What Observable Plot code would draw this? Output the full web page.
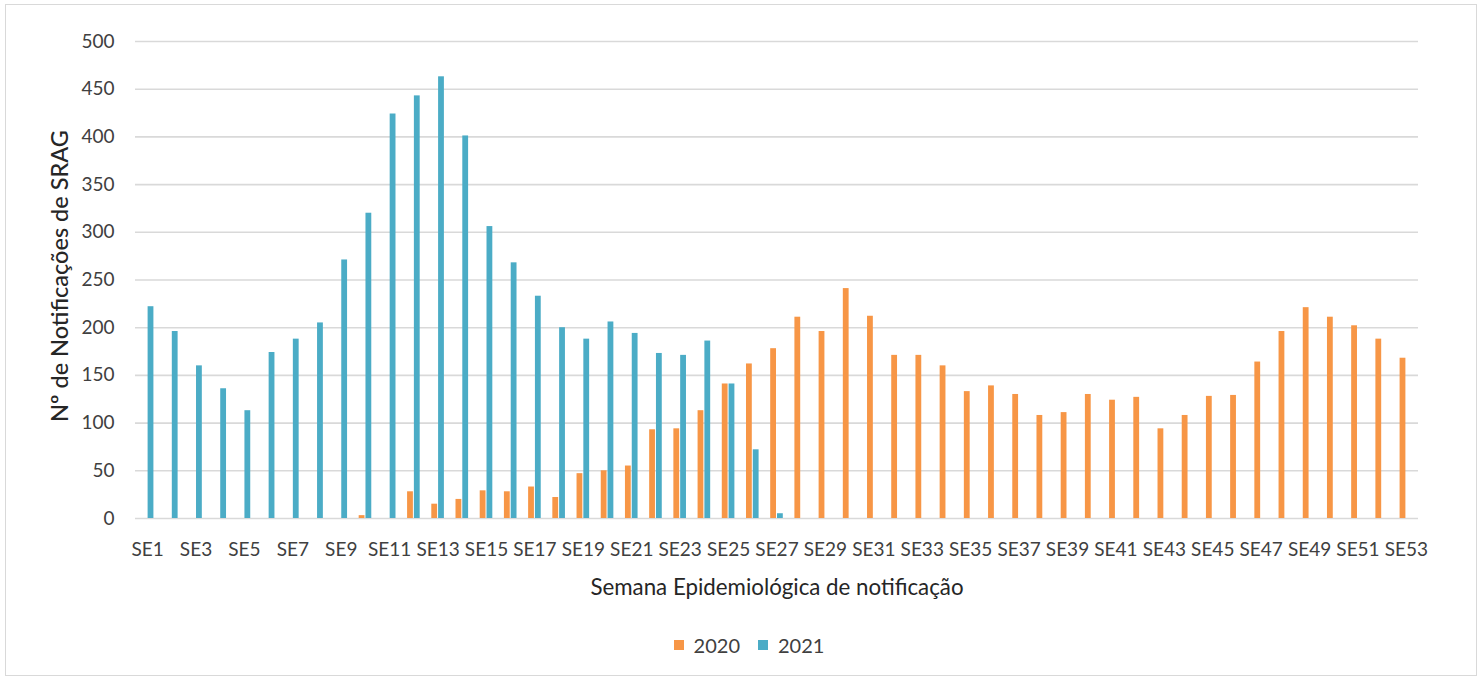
<!DOCTYPE html>
<html>
<head>
<meta charset="utf-8">
<script src="https://cdn.jsdelivr.net/npm/d3@7"></script>
<script src="https://cdn.jsdelivr.net/npm/@observablehq/plot@0.6"></script>
<style>
  html, body { margin: 0; padding: 0; background: #fff; }
  body { width: 1482px; height: 679px; position: relative; overflow: hidden; font-family: Lato, "Open Sans", sans-serif; }
  #border { position: absolute; left: 5px; top: 4px; width: 1472px; height: 672px; border: 1px solid #d9d9d9; box-sizing: border-box; }
  #chart { position: absolute; left: 0; top: 0; }
  #legend { position: absolute; top: 633px; left: 8px; width: 1482px; display: flex; justify-content: center; font-size: 20px; color: #404040; }
  .item { display: flex; align-items: center; margin: 0 9px; }
  .sw { width: 10px; height: 10px; margin-right: 10px; }
</style>
</head>
<body>
<div id="border"></div>
<div id="chart"></div>
<div id="legend"></div>
<script>
const weeks = ["SE1","SE2","SE3","SE4","SE5","SE6","SE7","SE8","SE9","SE10",
  "SE11","SE12","SE13","SE14","SE15","SE16","SE17","SE18","SE19","SE20",
  "SE21","SE22","SE23","SE24","SE25","SE26","SE27","SE28","SE29","SE30",
  "SE31","SE32","SE33","SE34","SE35","SE36","SE37","SE38","SE39","SE40",
  "SE41","SE42","SE43","SE44","SE45","SE46","SE47","SE48","SE49","SE50",
  "SE51","SE52","SE53"];
const xTickLabels = ["SE1","SE3","SE5","SE7","SE9","SE11","SE13","SE15","SE17","SE19",
  "SE21","SE23","SE25","SE27","SE29","SE31","SE33","SE35","SE37","SE39",
  "SE41","SE43","SE45","SE47","SE49","SE51","SE53"];
const yTickLabels = [0, 50, 100, 150, 200, 250, 300, 350, 400, 450, 500];
const cases2020 = [null,null,null,null,null,null,null,null,null,3,
  null,28,15,20,29,28,33,22,47,50,
  55,93,94,113,141,162,178,211,196,241,
  212,171,171,160,133,139,130,108,111,130,
  124,127,94,108,128,129,164,196,221,211,
  202,188,168];
const cases2021 = [222,196,160,136,113,174,188,205,271,320,
  424,443,463,401,306,268,233,200,188,206,
  194,173,171,186,141,72,5,null,null,null,
  null,null,null,null,null,null,null,null,null,null,
  null,null,null,null,null,null,null,null,null,null,
  null,null,null];
const series = ["2020", "2021"];
const colors = ["#f79646", "#4bacc6"];

const rows2020 = weeks.map((w, i) => ({week: w, value: cases2020[i]})).filter(d => d.value != null);
const rows2021 = weeks.map((w, i) => ({week: w, value: cases2021[i]})).filter(d => d.value != null);

const chart = Plot.plot({
  width: 1482,
  height: 610,
  marginLeft: 135,
  marginRight: 64,
  marginTop: 41,
  marginBottom: 92,
  style: {fontFamily: "Lato, 'Open Sans', sans-serif", fontSize: "19px", color: "#404040", background: "transparent"},
  x: {type: "band", domain: weeks, padding: 0, round: false, axis: null},
  y: {domain: [0, 500], axis: null},
  marks: [
    Plot.gridY(yTickLabels, {stroke: "#d9d9d9", strokeOpacity: 1, strokeWidth: 1.6}),
    Plot.barY(rows2020, {x: "week", y: "value", fill: colors[0], insetLeft: 5.8, insetRight: 12.6}),
    Plot.barY(rows2021, {x: "week", y: "value", fill: colors[1], insetLeft: 12.6, insetRight: 5.8}),
    Plot.axisX(xTickLabels, {tickSize: 0, tickPadding: 24, label: null, fontSize: 19}),
    Plot.axisY(yTickLabels, {tickSize: 0, tickPadding: 21, label: null, fontSize: 19}),
    Plot.text(["Semana Epidemiológica de notificação"], {frameAnchor: "bottom", dy: 69, fontSize: 22.3, fill: "#262626", textAnchor: "middle", lineAnchor: "middle"}),
    Plot.text(["Nº de Notificações de SRAG"], {frameAnchor: "left", dx: -75, dy: -4, rotate: -90, fontSize: 23.5, fill: "#262626", textAnchor: "middle", lineAnchor: "middle", fontWeight: 500})
  ]
});
document.getElementById("chart").appendChild(chart);

const legend = document.getElementById("legend");
series.forEach((s, i) => {
  const item = document.createElement("div");
  item.className = "item";
  const sw = document.createElement("span");
  sw.className = "sw";
  sw.style.background = colors[i];
  const t = document.createElement("span");
  t.textContent = s;
  item.appendChild(sw);
  item.appendChild(t);
  legend.appendChild(item);
});
</script>
</body>
</html>
